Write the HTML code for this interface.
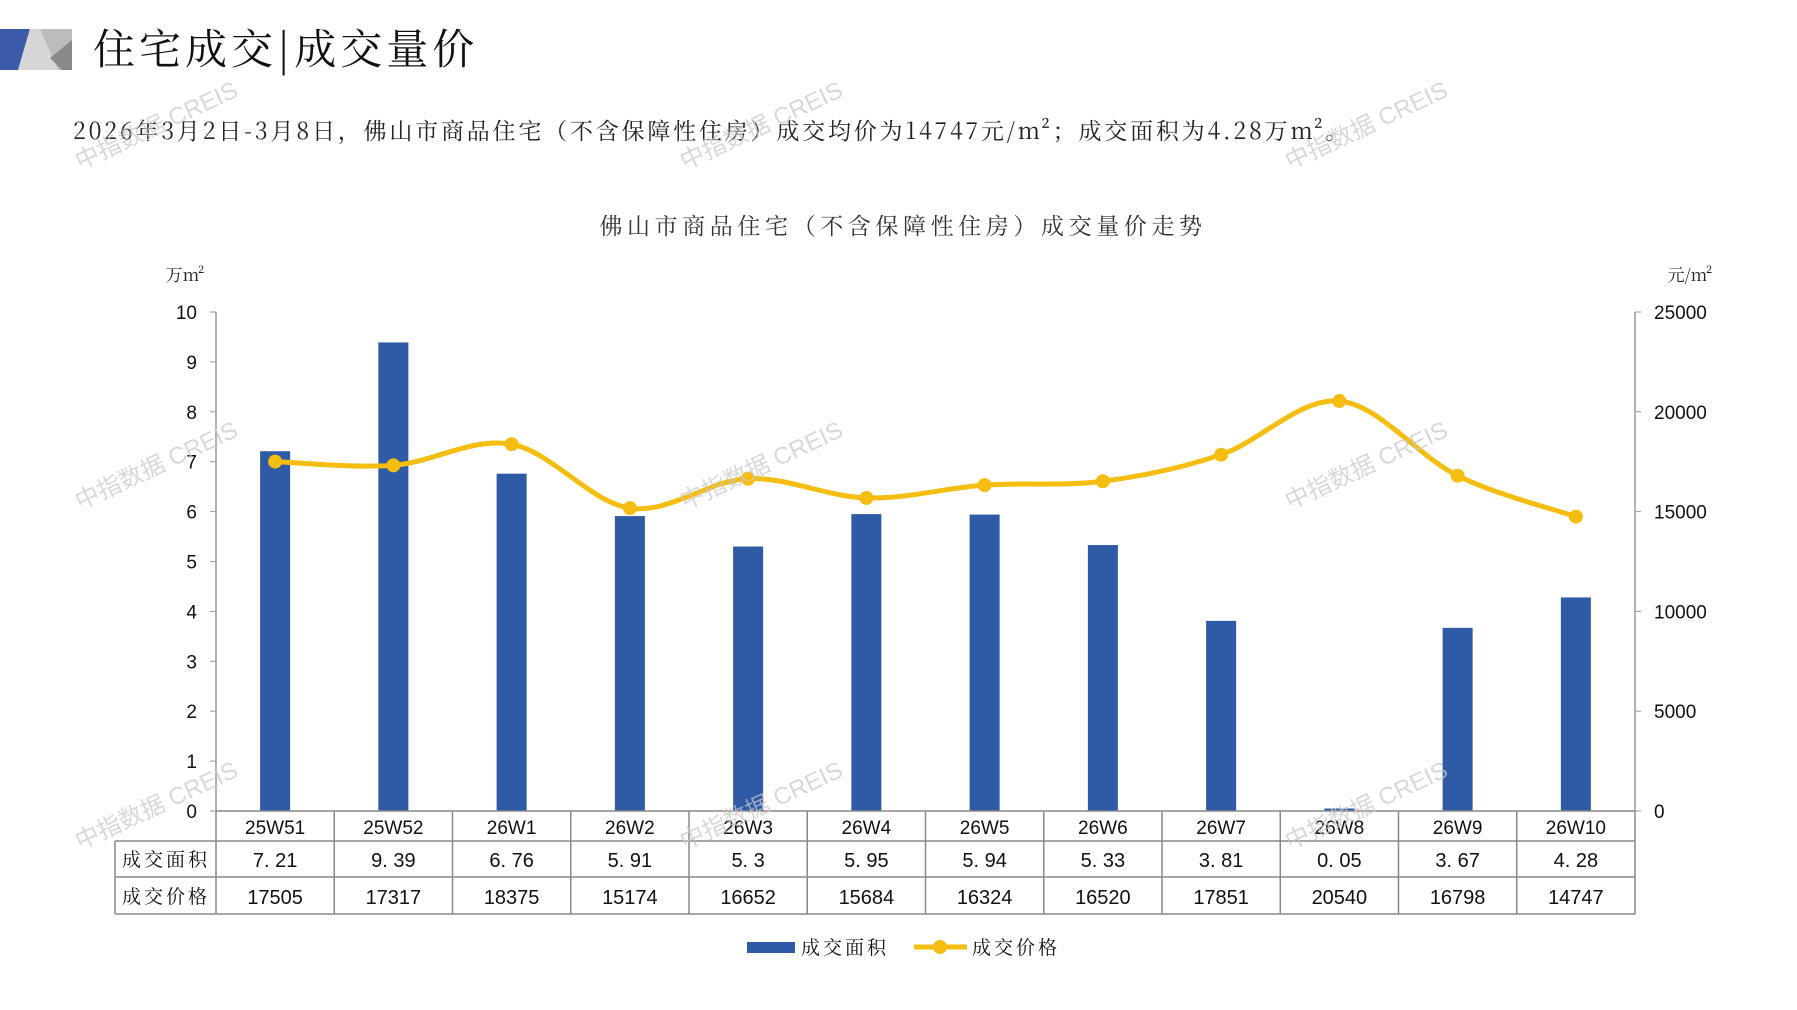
<!DOCTYPE html>
<html><head><meta charset="utf-8"><style>
html,body{margin:0;padding:0;background:#fff;}
svg{display:block;}
text{font-family:"Liberation Sans","Noto Sans CJK SC",sans-serif;}
.s{font-family:"Noto Serif CJK SC","Liberation Serif",serif;}
</style></head><body>
<svg id="c" width="1797" height="1010" viewBox="0 0 1797 1010" xmlns="http://www.w3.org/2000/svg">
<polygon points="0,29 30,29 18,70 0,70" fill="#3b5aa8"/>
<polygon points="30,29 72,29 72,70 18,70" fill="#d6d6d6"/>
<polygon points="40,29 72,29 72,70 58,70" fill="#bcbcbc"/>
<polygon points="50,58 72,40 72,70 62,70" fill="#8a8a8a"/>
<text class="s" x="93" y="64" font-size="42" fill="#111" letter-spacing="4">住宅成交|成交量价</text>
<text class="s" x="73" y="139" font-size="23" fill="#222" letter-spacing="2.8">2026年3月2日-3月8日，佛山市商品住宅（不含保障性住房）成交均价为14747元/m²；成交面积为4.28万m²。</text>
<text class="s" x="903" y="234" font-size="23" fill="#333" text-anchor="middle" letter-spacing="4.6">佛山市商品住宅（不含保障性住房）成交量价走势</text>
<text class="s" x="185" y="281" font-size="17" fill="#222" text-anchor="middle">万m²</text>
<text class="s" x="1690" y="281" font-size="17" fill="#222" text-anchor="middle">元/m²</text>
<g id="g"></g>
</svg>
<script>
var g=document.getElementById('g'),h='';
var L=216,R=1635,Z=811,T=312,W=(R-L)/12;
var cats=['25W51','25W52','26W1','26W2','26W3','26W4','26W5','26W6','26W7','26W8','26W9','26W10'];
var a=[7.21,9.39,6.76,5.91,5.3,5.95,5.94,5.33,3.81,0.05,3.67,4.28];
var p=[17505,17317,18375,15174,16652,15684,16324,16520,17851,20540,16798,14747];
h+='<line x1="'+L+'" y1="'+T+'" x2="'+L+'" y2="'+Z+'" stroke="#999" stroke-width="1.5"/>';
h+='<line x1="'+R+'" y1="'+T+'" x2="'+R+'" y2="'+Z+'" stroke="#999" stroke-width="1.5"/>';
for(var i=0;i<=10;i++){var y=Z-i*(Z-T)/10;h+='<line x1="'+(L-6)+'" y1="'+y+'" x2="'+L+'" y2="'+y+'" stroke="#999"/><text x="197" y="'+(y+7)+'" font-size="19" text-anchor="end" fill="#111">'+i+'</text>';}
for(var i=0;i<=5;i++){var y=Z-i*(Z-T)/5;h+='<line x1="'+R+'" y1="'+y+'" x2="'+(R+6)+'" y2="'+y+'" stroke="#999"/><text x="1654" y="'+(y+7)+'" font-size="19" fill="#111">'+(i?i*5000:0)+'</text>';}
var pts=[];
for(var i=0;i<12;i++){var cx=L+W*(i+.5),bh=a[i]*(Z-T)/10;
h+='<rect x="'+(cx-15)+'" y="'+(Z-bh)+'" width="30" height="'+bh+'" fill="#2f5aa6"/>';
pts.push([cx,Z-p[i]/25000*(Z-T)]);}
var d='M'+pts[0][0]+','+pts[0][1];
for(var i=0;i<11;i++){var p0=pts[Math.max(i-1,0)],p1=pts[i],p2=pts[i+1],p3=pts[Math.min(i+2,11)];
d+=' C'+(p1[0]+(p2[0]-p0[0])/6)+','+(p1[1]+(p2[1]-p0[1])/6)+' '+(p2[0]-(p3[0]-p1[0])/6)+','+(p2[1]-(p3[1]-p1[1])/6)+' '+p2[0]+','+p2[1];}
h+='<path d="'+d+'" fill="none" stroke="#f5bd0f" stroke-width="5"/>';
pts.forEach(function(q){h+='<circle cx="'+q[0]+'" cy="'+q[1]+'" r="7" fill="#f5bd0f"/>';});
var r=[Z,841,877,914],TL=115;
h+='<line x1="'+L+'" y1="'+Z+'" x2="'+R+'" y2="'+Z+'" stroke="#888" stroke-width="1.5"/>';
for(var k=1;k<4;k++)h+='<line x1="'+TL+'" y1="'+r[k]+'" x2="'+R+'" y2="'+r[k]+'" stroke="#888" stroke-width="1.5"/>';
h+='<line x1="'+TL+'" y1="841" x2="'+TL+'" y2="914" stroke="#888" stroke-width="1.5"/>';
for(var i=0;i<=12;i++){var x=L+W*i;h+='<line x1="'+x+'" y1="'+Z+'" x2="'+x+'" y2="914" stroke="#888" stroke-width="1.5"/>';}
h+='<text class="s" x="166" y="866" font-size="19" text-anchor="middle" fill="#111" letter-spacing="3">成交面积</text>';
h+='<text class="s" x="166" y="903" font-size="19" text-anchor="middle" fill="#111" letter-spacing="3">成交价格</text>';
for(var i=0;i<12;i++){var cx=L+W*(i+.5);
h+='<text x="'+cx+'" y="834" font-size="19" text-anchor="middle" fill="#111">'+cats[i]+'</text>';
h+='<text x="'+cx+'" y="867" font-size="20" text-anchor="middle" fill="#111">'+String(a[i]).replace('.','. ')+'</text>';
h+='<text x="'+cx+'" y="904" font-size="20" text-anchor="middle" fill="#111">'+p[i]+'</text>';}
h+='<rect x="747" y="942" width="48" height="11" fill="#2f5aa6"/><text class="s" x="801" y="954" font-size="19" fill="#111" letter-spacing="3">成交面积</text>';
h+='<line x1="914" y1="947" x2="967" y2="947" stroke="#f5bd0f" stroke-width="5"/><circle cx="940" cy="947" r="7" fill="#f5bd0f"/><text class="s" x="972" y="954" font-size="19" fill="#111" letter-spacing="3">成交价格</text>';
[[80,170],[685,170],[1290,170],[80,510],[685,510],[1290,510],[80,850],[685,850],[1290,850]].forEach(function(w){
h+='<text x="'+w[0]+'" y="'+w[1]+'" font-size="24" fill="#c8c8c8" fill-opacity="0.7" transform="rotate(-25 '+w[0]+' '+w[1]+')">中指数据 CREIS</text>';});
g.innerHTML=h;
</script>
</body></html>
